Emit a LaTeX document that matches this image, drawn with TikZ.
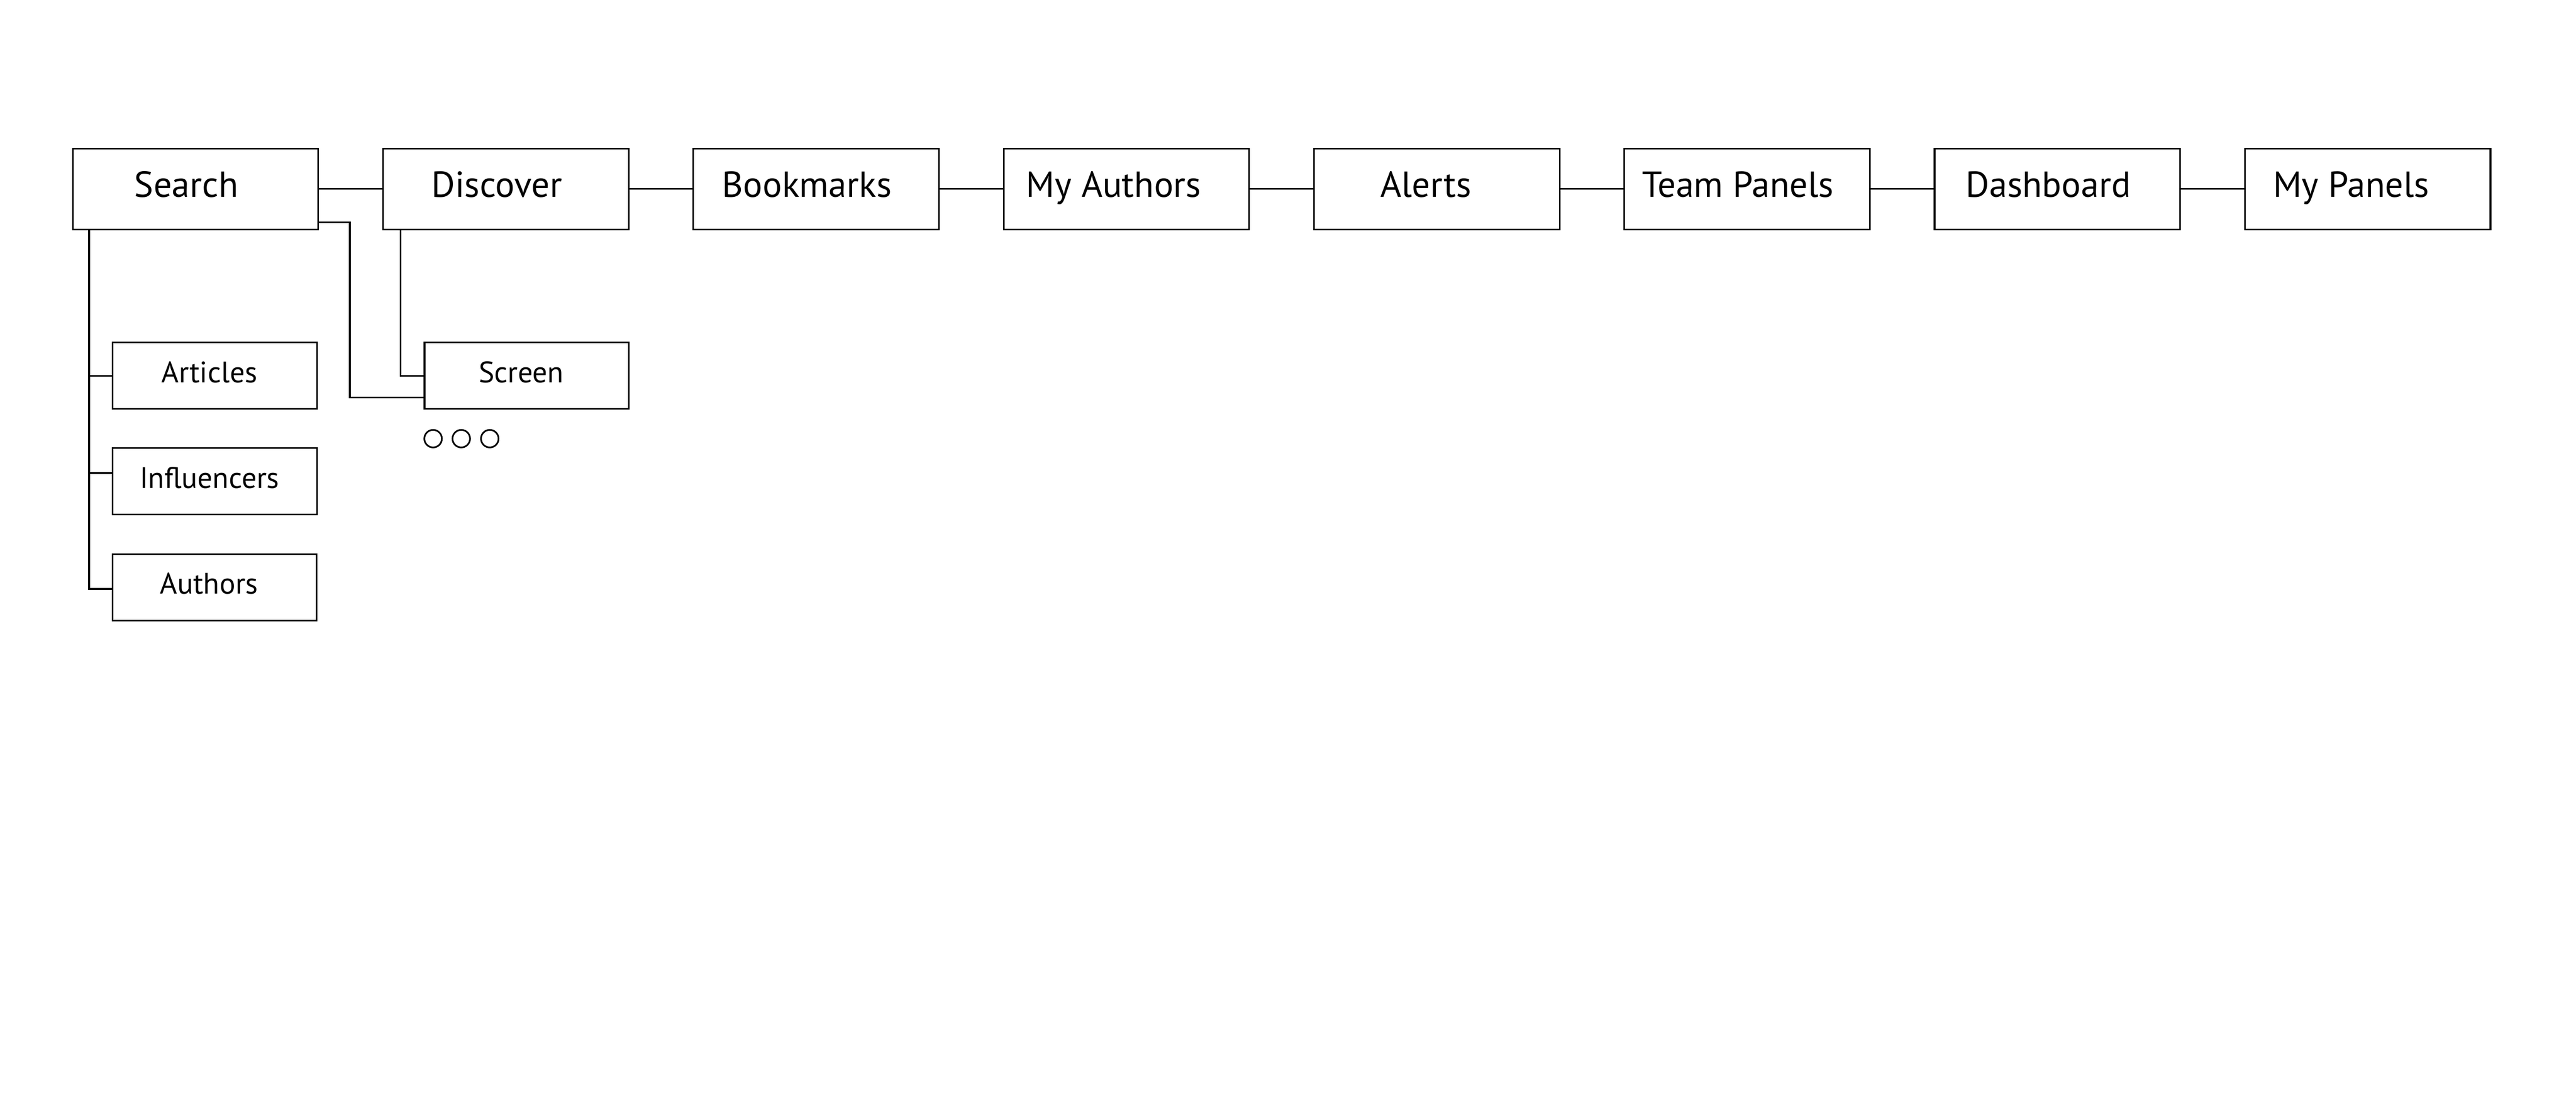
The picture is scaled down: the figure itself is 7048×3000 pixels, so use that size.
\documentclass[tikz,border=0pt]{standalone}
\usepackage{fontspec}
\setmainfont{PT Sans}

\begin{document}
\begin{tikzpicture}[x=0.1pt, y=-0.1pt, line width=0.45pt,
    page/.style={draw, minimum width=67.2pt, minimum height=22.1pt, inner sep=0pt,
        font=\fontsize{9.9}{11}\selectfont, text height=6.5pt, text depth=2pt,
        execute at end node=\hspace*{5pt}},
    subpage/.style={draw, minimum width=55.9pt, minimum height=18.2pt, inner sep=0pt,
        font=\fontsize{8.1}{10}\selectfont, text height=5.6pt, text depth=2pt,
        execute at end node=\hspace*{3pt}}]
            \useasboundingbox (0,0) rectangle (7048,3000);
            
            \node[page] (search) at (535,517) {Search};
            \node[page] (discover) at (1384,517) {Discover};
            \node[page] (bookmarks) at (2233,517) {Bookmarks};
            \node[page] (myauthors) at (3082,517) {My Authors\hspace*{2pt}};
            \node[page] (alerts) at (3931,517) {Alerts\hspace*{1pt}};
            \node[page] (teampanels) at (4780,517) {Team Panels};
            \node[page] (dashboard) at (5629,517) {Dashboard};
            \node[page] (mypanels) at (6478,517) {My Panels\hspace*{4pt}}; % top row
            
            \node[subpage] (articles) at (588,1028) {Articles};
            \node[subpage] (influencers) at (588,1317) {Influencers};
            \node[subpage] (authors) at (587,1607) {Authors}; % under search
            
            \node[subpage] (screen) at (1441,1028) {Screen}; % under discover
            
            \draw (search) -- (discover);
            \draw (discover) -- (bookmarks);
            \draw (bookmarks) -- (myauthors);
            \draw (myauthors) -- (alerts);
            \draw (alerts) -- (teampanels);
            \draw (teampanels) -- (dashboard);
            \draw (dashboard) -- (mypanels);
            
            \draw ([xshift=4.7pt]search.south west)
            |- ([yshift=-0.4pt]authors.west); % search tree
            
            \draw ([xshift=4.7pt]search.south west |- articles.west)
            -- (articles.west);
            
            \draw ([xshift=4.7pt,yshift=2.3pt]search.south west |- influencers.west)
            -- ([yshift=2.3pt]influencers.west);
            
            \draw ([yshift=2.1pt]search.south east)
            -- ++(8.4pt,0)
            |- ([yshift=-5.9pt]screen.west); % search to screen
            
            \draw ([xshift=5pt]discover.south west)
            |- (screen.west); % discover to screen
            
            \draw (1185,1200) circle(2.4pt);
            \draw (1262,1200) circle(2.4pt);
            \draw (1340,1200) circle(2.4pt); % more
        \end{tikzpicture}
\end{document}
